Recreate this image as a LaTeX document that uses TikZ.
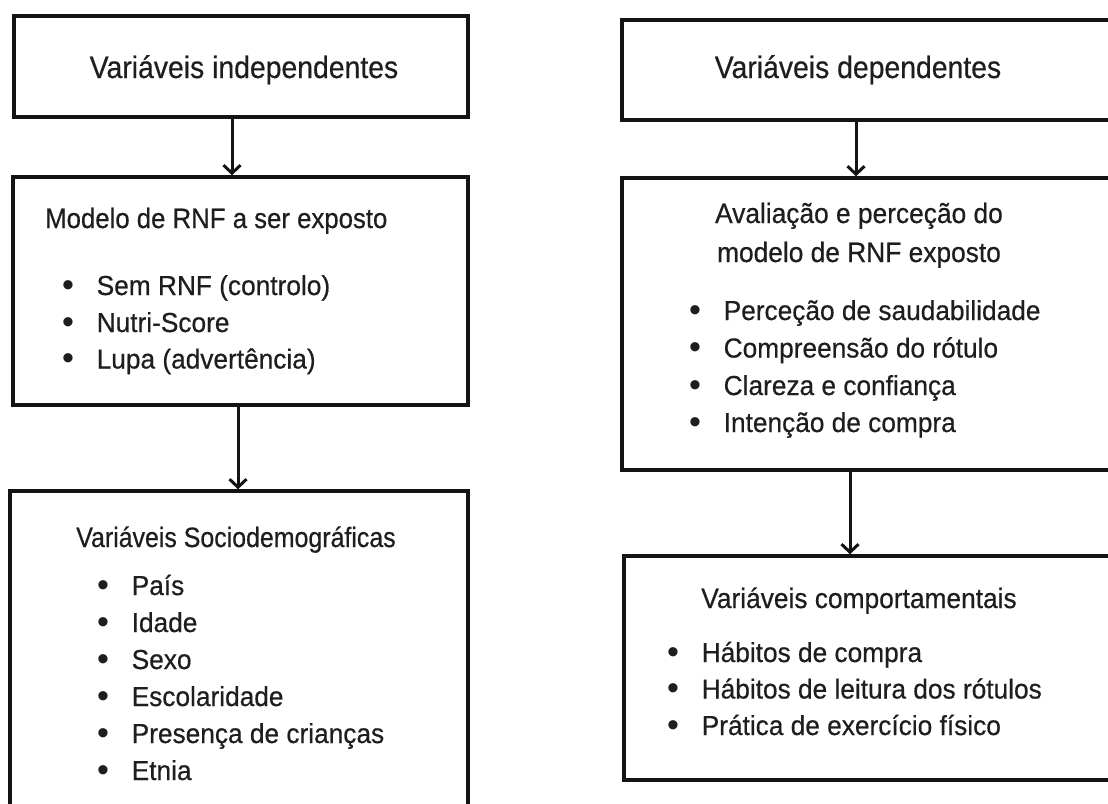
\documentclass[tikz,border=0pt]{standalone}
\usepackage{fontspec}
\setmainfont{Liberation Sans}
\newfontfamily\ftitle{Liberation Sans}[FakeStretch=0.915,FakeBold=0.5]
\newfontfamily\fheadA{Liberation Sans}[FakeStretch=0.92,FakeBold=0.5]
\newfontfamily\fheadB{Liberation Sans}[FakeStretch=0.89,FakeBold=0.5]
\newfontfamily\fheadC{Liberation Sans}[FakeStretch=0.94,FakeBold=0.5]
\newfontfamily\fitem{Liberation Sans}[FakeStretch=0.955,FakeBold=0.5]
\newfontfamily\fbul{Liberation Sans}
\usetikzlibrary{arrows.meta,fit}
\definecolor{ink}{HTML}{1E1E1E}
\tikzset{
  box/.style={draw=black!92, line width=3.5pt, inner sep=0pt, fill=none},
  arr/.style={draw=black!92, line width=3pt, -{Straight Barb[length=8pt,width=17pt,line width=3pt]}},
  ttl/.style={inner sep=0pt, anchor=base, text=ink, font=\ftitle\fontsize{31}{36}\selectfont},
  hdA/.style={inner sep=0pt, text=ink, font=\fheadA\fontsize{28}{34}\selectfont},
  hdB/.style={inner sep=0pt, text=ink, font=\fheadB\fontsize{28}{34}\selectfont},
  hdC/.style={inner sep=0pt, text=ink, font=\fheadC\fontsize{28}{34}\selectfont},
  itm/.style={inner sep=0pt, anchor=base west, text=ink, font=\fitem\fontsize{27.5}{34}\selectfont},
}
\newcommand{\bul}{\makebox[33.3pt][l]{\raisebox{-1.2pt}{\fbul\fontsize{34}{34}\selectfont\kern-1.2pt•}}}
\begin{document}
\begin{tikzpicture}[x=1pt,y=-1pt]
\useasboundingbox (0,0) rectangle (1108,803);
\clip (0,0) rectangle (1108,803);
\fill[white] (0,0) rectangle (1108,803);
% boxes
\coordinate (b1a) at (14,16);  \coordinate (b1b) at (468,117);
\coordinate (b2a) at (13,177); \coordinate (b2b) at (468,405);
\coordinate (b3a) at (10,491); \coordinate (b3b) at (468,840);
\coordinate (r1a) at (622,20); \coordinate (r1b) at (1140,120);
\coordinate (r2a) at (622,178); \coordinate (r2b) at (1140,470);
\coordinate (r3a) at (624,556); \coordinate (r3b) at (1140,780);
\node[box, fit=(b1a)(b1b)] (b1) {};
\node[box, fit=(b2a)(b2b)] (b2) {};
\node[box, fit=(b3a)(b3b)] (b3) {};
\node[box, fit=(r1a)(r1b)] (r1) {};
\node[box, fit=(r2a)(r2b)] (r2) {};
\node[box, fit=(r3a)(r3b)] (r3) {};
% arrows
\draw[arr] (b1.south -| 232,0) -- (b2.north -| 232,0);
\draw[arr] (b2.south -| 238,0) -- (b3.north -| 238,0);
\draw[arr] (r1.south -| 856,0) -- (r2.north -| 856,0);
\draw[arr] (r2.south -| 850,0) -- (r3.north -| 850,0);
% titles
\node[ttl] (t1) at (244,78) {Variáveis independentes};
\node[ttl] (t2) at (858,78) {Variáveis dependentes};
% left box 2
\node[hdA, anchor=base west] (h1) at (45,228) {Modelo de RNF a ser exposto};
\node[itm] (i11) at (63.2,295) {\bul Sem RNF (controlo)};
\node[itm] (i12) at (63.2,332) {\bul Nutri-Score};
\node[itm] (i13) at (63.2,368.5) {\bul Lupa (advertência)};
% left box 3
\node[hdB, anchor=base] (h2) at (236,547) {Variáveis Sociodemográficas};
\node[itm] (i21) at (98.2,595) {\bul País};
\node[itm] (i22) at (98.2,632) {\bul Idade};
\node[itm] (i23) at (98.2,669) {\bul Sexo};
\node[itm] (i24) at (98.2,706) {\bul Escolaridade};
\node[itm] (i25) at (98.2,743) {\bul Presença de crianças};
\node[itm] (i26) at (98.2,780) {\bul Etnia};
% right box 2
\node[hdC, anchor=base] (h3) at (859,223) {Avaliação e perceção do};
\node[hdC, anchor=base] (h4) at (859,262) {modelo de RNF exposto};
\node[itm] (i31) at (690.2,320) {\bul Perceção de saudabilidade};
\node[itm] (i32) at (690.2,357.5) {\bul Compreensão do rótulo};
\node[itm] (i33) at (690.2,395) {\bul Clareza e confiança};
\node[itm] (i34) at (690.2,432) {\bul Intenção de compra};
% right box 3
\node[hdC, anchor=base] (h5) at (859,608) {Variáveis comportamentais};
\node[itm] (i41) at (668.2,662) {\bul Hábitos de compra};
\node[itm] (i42) at (668.2,698.5) {\bul Hábitos de leitura dos rótulos};
\node[itm] (i43) at (668.2,735) {\bul Prática de exercício físico};
\end{tikzpicture}
\end{document}
